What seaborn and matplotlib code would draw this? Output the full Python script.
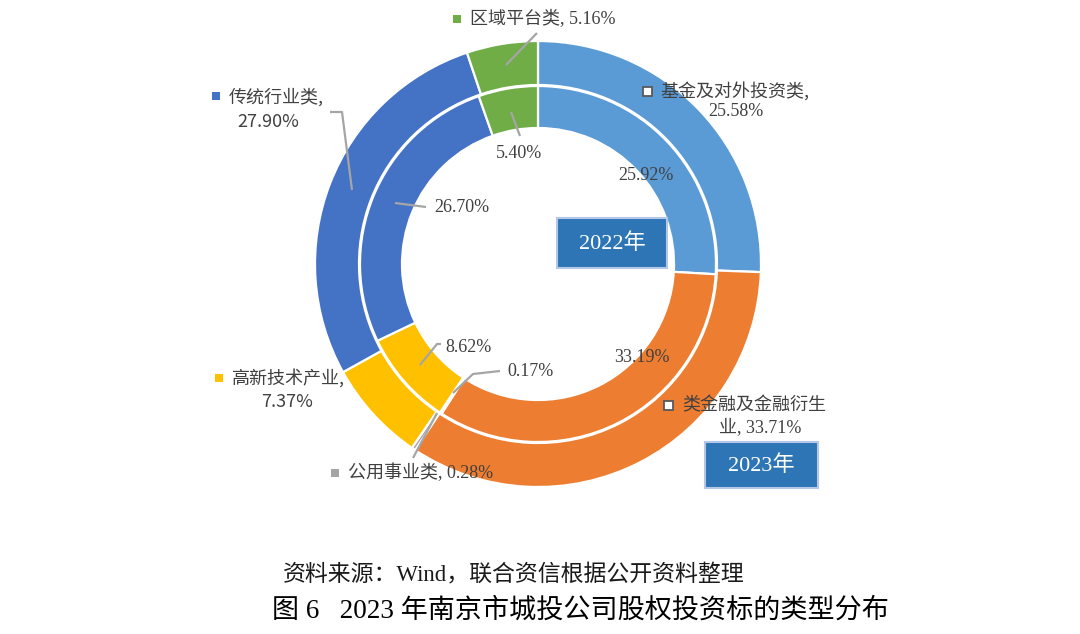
import matplotlib
matplotlib.use("Agg")
import matplotlib.pyplot as plt
from matplotlib.patches import Rectangle
import seaborn as sns

# ---- data ----
categories = ["基金及对外投资类", "类金融及金融衍生业", "公用事业类", "高新技术产业", "传统行业类", "区域平台类"]
share_2023 = [25.58, 33.71, 0.28, 7.37, 27.90, 5.16]
share_2022 = [25.92, 33.19, 0.17, 8.62, 26.70, 5.40]
year_labels = ["2022年", "2023年"]
source_text = "资料来源：Wind，联合资信根据公开资料整理"
title_text = "图 6   2023 年南京市城投公司股权投资标的类型分布"

colors = ["#5B9BD5", "#ED7D31", "#A5A5A5", "#FFC000", "#4472C4", "#70AD47"]

sns.set_theme(style="white")
plt.rcParams["font.family"] = ["Noto Sans CJK SC", "DejaVu Sans"]

SERIF = ["Liberation Serif", "Noto Sans CJK SC", "DejaVu Sans"]
SANS = ["Noto Sans CJK SC", "DejaVu Sans"]
TXT = "#404040"

fig = plt.figure(figsize=(10.8, 6.34), dpi=100)
ax = fig.add_axes([0, 0, 1, 1])

cx, cy = 538, 264
# y axis inverted (pixel coords) -> counterclock in data = clockwise on screen
ax.pie(share_2023, radius=223, center=(cx, cy), startangle=-90, counterclock=True,
       colors=colors, wedgeprops=dict(width=44, edgecolor="white", linewidth=1.6))
ax.pie(share_2022, radius=178, center=(cx, cy), startangle=-90, counterclock=True,
       colors=colors, wedgeprops=dict(width=42, edgecolor="white", linewidth=1.6))

ax.set_xlim(0, 1080)
ax.set_ylim(634, 0)
ax.set_aspect("auto")
ax.axis("off")

FS = 13
LC = "#A5A5A5"

def line(pts):
    xs, ys = zip(*pts)
    ax.plot(xs, ys, color=LC, lw=1.6, solid_capstyle="butt", zorder=5)

def marker(x, y, color, hollow=False):
    if hollow:
        ax.add_patch(Rectangle((x - 4.5, y - 4.5), 9, 9, facecolor="white",
                               edgecolor="#595959", lw=1.3, zorder=6))
    else:
        ax.add_patch(Rectangle((x - 4, y - 4), 8, 8, facecolor=color,
                               edgecolor="none", zorder=6))

# ---- outer (2023) labels ----
marker(457, 19, colors[5])
ax.text(470, 19, f"{categories[5]}, {share_2023[5]:.2f}%", family=SERIF, fontsize=FS,
        color=TXT, ha="left", va="center")
line([(537, 33), (506, 65)])

marker(216, 96, colors[4])
ax.text(229, 97, f"{categories[4]},", family=SANS, fontsize=FS, color=TXT, ha="left", va="center")
ax.text(268, 122, f"{share_2023[4]:.2f}%", family=SANS, fontsize=FS, color=TXT, ha="center", va="center")
line([(330, 112), (342, 112), (352, 190)])

marker(647, 91, colors[0], hollow=True)
ax.text(660, 91, f"{categories[0]},", family=SANS, fontsize=FS, color=TXT, ha="left", va="center")
ax.text(736, 112, f"{share_2023[0]:.2f}%", family=SERIF, fontsize=FS, color=TXT, ha="center", va="center")

marker(219, 378, colors[3])
ax.text(232, 378, f"{categories[3]},", family=SANS, fontsize=FS, color=TXT, ha="left", va="center")
ax.text(287, 402, f"{share_2023[3]:.2f}%", family=SANS, fontsize=FS, color=TXT, ha="center", va="center")

marker(668, 405, colors[1], hollow=True)
ax.text(682, 405, categories[1][:-1], family=SANS, fontsize=FS, color=TXT, ha="left", va="center")
ax.text(760, 428, f"{categories[1][-1]}, {share_2023[1]:.2f}%", family=SERIF, fontsize=FS,
        color=TXT, ha="center", va="center")

marker(335, 473, colors[2])
ax.text(348, 473, f"{categories[2]}, {share_2023[2]:.2f}%", family=SERIF, fontsize=FS,
        color=TXT, ha="left", va="center")
line([(413, 458), (437, 413)])

# ---- inner (2022) labels ----
ax.text(519, 153, f"{share_2022[5]:.2f}%", family=SERIF, fontsize=FS, color=TXT, ha="center", va="center")
line([(511, 112), (520, 136)])
ax.text(646, 175, f"{share_2022[0]:.2f}%", family=SERIF, fontsize=FS, color=TXT, ha="center", va="center")
ax.text(462, 207, f"{share_2022[4]:.2f}%", family=SERIF, fontsize=FS, color=TXT, ha="center", va="center")
line([(395, 203), (426, 207)])
ax.text(469, 347, f"{share_2022[3]:.2f}%", family=SERIF, fontsize=FS, color=TXT, ha="center", va="center")
line([(420, 365), (437, 344), (441, 344)])
ax.text(531, 371, f"{share_2022[2]:.2f}%", family=SERIF, fontsize=FS, color=TXT, ha="center", va="center")
line([(453, 393), (473, 374), (500, 371)])
ax.text(642, 357, f"{share_2022[1]:.2f}%", family=SERIF, fontsize=FS, color=TXT, ha="center", va="center")

# ---- year boxes ----
for (x0, y0, w, h), lab in zip([(557, 218, 110, 50), (705, 442, 113, 46)], year_labels):
    ax.add_patch(Rectangle((x0, y0), w, h, facecolor="#2E75B6", edgecolor="#B4C7E7",
                           lw=1.5, zorder=7))
    ax.text(x0 + w / 2, y0 + h / 2 + 1, lab, family=SERIF, fontsize=16, color="white",
            ha="center", va="center", zorder=8)

# ---- caption & title ----
ax.text(283, 575, source_text, family=SERIF, fontsize=16.5, color="#1a1a1a", ha="left", va="center")
ax.text(272, 611, title_text, family=SERIF, fontsize=19.5, color="black", ha="left", va="center")

fig.savefig("out.png", dpi=100)
